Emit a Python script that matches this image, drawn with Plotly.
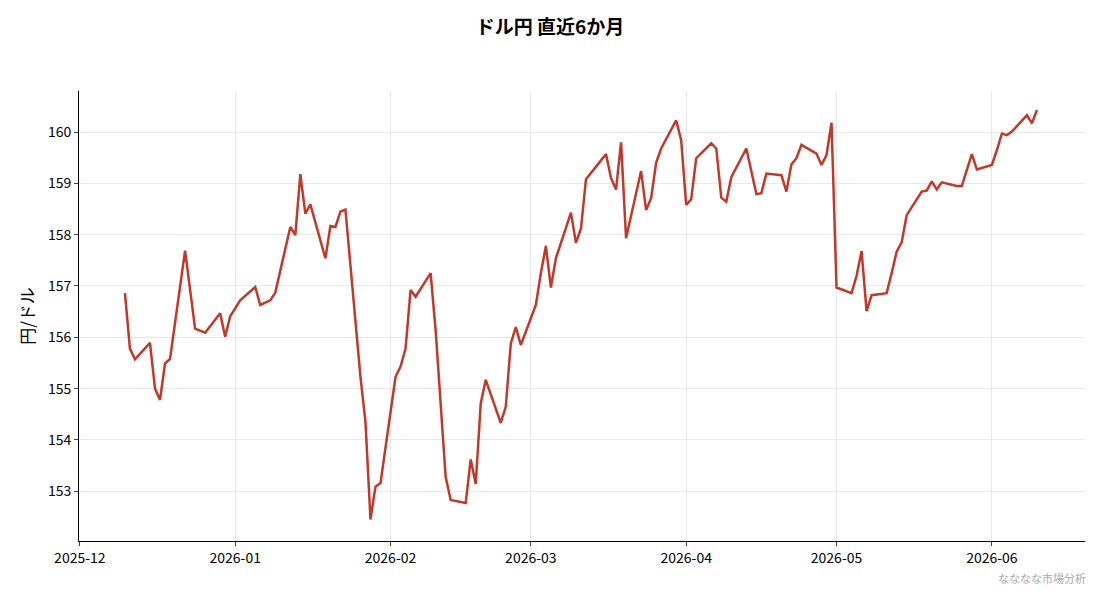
import plotly.graph_objects as go

dates = ["2025-12-10","2025-12-11","2025-12-12","2025-12-15","2025-12-16","2025-12-17","2025-12-18","2025-12-19",
"2025-12-22","2025-12-24","2025-12-26","2025-12-29","2025-12-30","2025-12-31","2026-01-02","2026-01-05","2026-01-06",
"2026-01-08","2026-01-09","2026-01-12","2026-01-13","2026-01-14","2026-01-15","2026-01-16","2026-01-19","2026-01-20",
"2026-01-21","2026-01-22","2026-01-23","2026-01-26","2026-01-27","2026-01-28","2026-01-29","2026-01-30",
"2026-02-02","2026-02-03","2026-02-04","2026-02-05","2026-02-06","2026-02-09","2026-02-10","2026-02-11","2026-02-12",
"2026-02-13","2026-02-16","2026-02-17","2026-02-18","2026-02-19","2026-02-20","2026-02-23","2026-02-24","2026-02-25",
"2026-02-26","2026-02-27","2026-03-02","2026-03-03","2026-03-04","2026-03-05","2026-03-06","2026-03-09","2026-03-10",
"2026-03-11","2026-03-12","2026-03-16","2026-03-17","2026-03-18","2026-03-19","2026-03-20","2026-03-23","2026-03-24",
"2026-03-25","2026-03-26","2026-03-27","2026-03-30","2026-03-31","2026-04-01","2026-04-02","2026-04-03","2026-04-06",
"2026-04-07","2026-04-08","2026-04-09","2026-04-10","2026-04-13","2026-04-15","2026-04-16","2026-04-17","2026-04-20",
"2026-04-21","2026-04-22","2026-04-23","2026-04-24","2026-04-27","2026-04-28","2026-04-29","2026-04-30","2026-05-01",
"2026-05-04","2026-05-05","2026-05-06","2026-05-07","2026-05-08","2026-05-11","2026-05-12","2026-05-13","2026-05-14",
"2026-05-15","2026-05-18","2026-05-19","2026-05-20","2026-05-21","2026-05-22","2026-05-25","2026-05-26","2026-05-28",
"2026-05-29","2026-06-01","2026-06-02","2026-06-03","2026-06-04","2026-06-05","2026-06-08","2026-06-09","2026-06-10"]

usdjpy = [156.86,155.78,155.57,155.89,155.00,154.78,155.49,155.58,
157.69,156.17,156.09,156.47,156.01,156.41,156.72,156.98,156.63,
156.72,156.87,158.15,157.99,159.18,158.41,158.59,157.54,158.17,
158.15,158.45,158.49,155.23,154.35,152.45,153.09,153.16,
155.23,155.43,155.78,156.92,156.79,157.25,156.14,154.71,153.28,
152.83,152.77,153.62,153.14,154.71,155.17,154.33,154.65,155.88,
156.20,155.85,156.63,157.25,157.78,156.97,157.54,158.43,157.84,
158.12,159.08,159.57,159.10,158.88,159.80,157.93,159.24,158.48,
158.71,159.40,159.68,160.23,159.84,158.58,158.69,159.49,159.78,
159.68,158.72,158.64,159.12,159.68,158.79,158.81,159.19,159.16,
158.84,159.37,159.49,159.75,159.58,159.36,159.55,160.18,156.97,
156.86,157.20,157.68,156.51,156.82,156.86,157.25,157.67,157.85,
158.38,158.84,158.86,159.04,158.88,159.02,158.95,158.95,159.57,
159.27,159.36,159.65,159.97,159.94,160.01,160.33,160.17,160.43]

fig = go.Figure(go.Scatter(x=dates, y=usdjpy, mode="lines",
                           line=dict(color="#c0392b", width=2.5), showlegend=False))
font = "Noto Sans CJK JP"
fig.update_layout(
    width=1084, height=578, paper_bgcolor="white", plot_bgcolor="white",
    margin=dict(l=71, r=7, t=83, b=45),
    font=dict(family=font, size=14, color="black"),
    title=dict(text="<b>ドル円 直近6か月</b>", x=0.5, xanchor="center", y=1 - 19/578, yanchor="middle",
               font=dict(size=19)),
    xaxis=dict(type="date", range=["2025-11-30 20:00", "2026-06-19 14:00"], dtick="M1", tickformat="%Y-%m",
               showgrid=True, gridcolor="#e8e8e8", showline=True, linecolor="black", linewidth=1,
               ticks="outside", ticklen=4, zeroline=False, automargin=False),
    yaxis=dict(range=[152.03, 160.8], dtick=1, showgrid=True, gridcolor="#e8e8e8",
               showline=True, linecolor="black", linewidth=1, ticks="outside", ticklen=4,
               title=dict(text="円/ドル", standoff=8), zeroline=False, automargin=False),
    annotations=[dict(text="なななな市場分析", xref="paper", yref="paper", x=1.003, y=-0.082,
                      xanchor="right", yanchor="middle", showarrow=False, font=dict(size=11, color="#aaaaaa"))],
)
fig.write_html("out.html")
